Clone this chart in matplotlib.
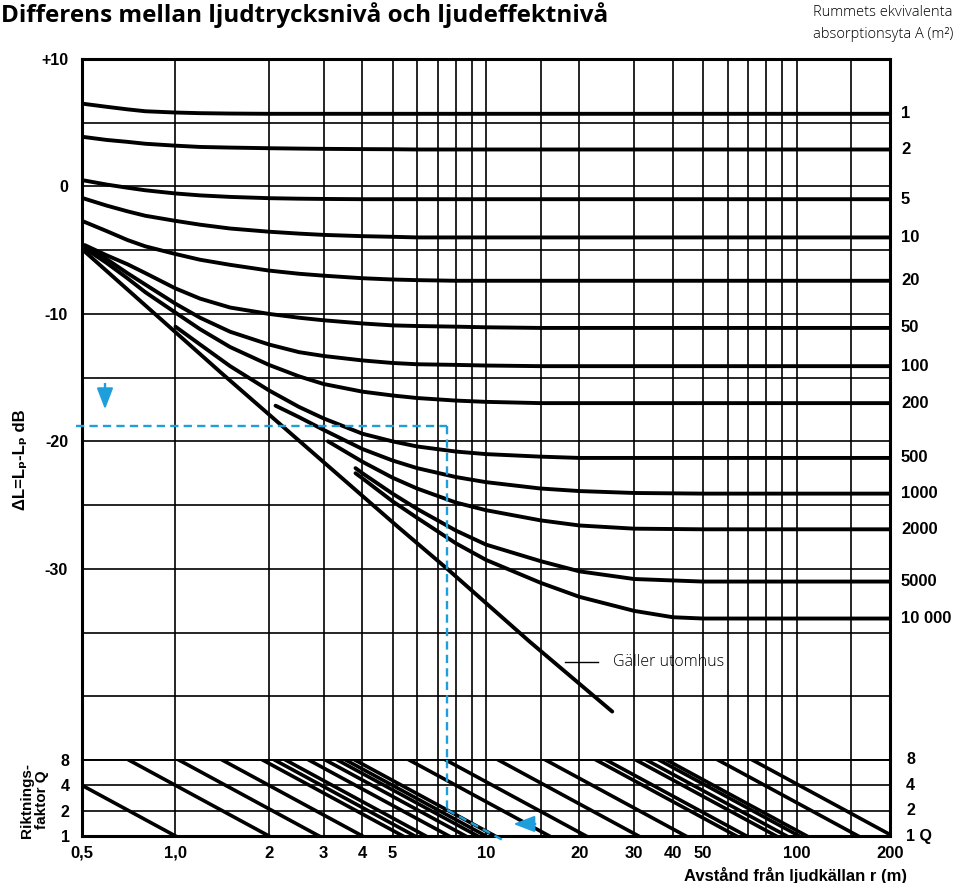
import matplotlib.pyplot as plt
from matplotlib.ticker import NullLocator
from matplotlib.transforms import blended_transform_factory

# --- figure geometry (pixels of the 962x883 reference) ---
W, H = 962, 883
L, R, T, M, B = 82, 890, 59, 760, 836   # left, right, top (+10 dB), Q=8 line, Q=1 line

BLUE = '#1E9FDB'
NUM_FONT = ['Liberation Sans', 'DejaVu Sans']
TXT_FONT = ['Open Sans', 'DejaVu Sans']

# --- axes values ---
r_ticks = [0.5, 1, 2, 3, 4, 5, 10, 20, 30, 40, 50, 100, 200]
r_tick_labels = ['0,5', '1,0', '2', '3', '4', '5', '10', '20', '30', '40', '50', '100', '200']
r_grid = [1, 2, 3, 4, 5, 6, 7, 8, 9, 10, 15, 20, 30, 40, 50, 60, 70, 80, 90, 100, 150]
db_grid = [5, 0, -5, -10, -15, -20, -25, -30, -35, -40]
db_ticks = [10, 0, -10, -20, -30]
db_tick_labels = ['+10', '0', '-10', '-20', '-30']
q_levels = [1, 2, 4, 8]
q_right_labels = ['1 Q', '2', '4', '8']

# --- room curves: absorption area A (m2) -> dB values ---
r_full = [0.5, 0.6, 0.7, 0.8, 1, 1.2, 1.5, 2, 2.5, 3, 4, 5, 6, 8, 10, 15, 20, 30, 50, 100, 200]
a1 = [6.5, 6.25, 6.05, 5.9, 5.8, 5.75, 5.72, 5.7, 5.7, 5.7, 5.7, 5.7, 5.7, 5.7, 5.7, 5.7, 5.7, 5.7, 5.7, 5.7, 5.7]
a2 = [3.9, 3.65, 3.5, 3.35, 3.2, 3.1, 3.05, 3.0, 2.97, 2.95, 2.93, 2.92, 2.9, 2.9, 2.9, 2.9, 2.9, 2.9, 2.9, 2.9, 2.9]
a5 = [0.5, 0.15, -0.1, -0.3, -0.55, -0.7, -0.82, -0.92, -0.96, -0.98, -1.0, -1.0, -1.0, -1.0, -1.0, -1.0, -1.0, -1.0, -1.0, -1.0, -1.0]
a10 = [-0.9, -1.5, -1.95, -2.3, -2.7, -3.0, -3.3, -3.55, -3.7, -3.8, -3.9, -3.95, -4.0, -4.0, -4.0, -4.0, -4.0, -4.0, -4.0, -4.0, -4.0]
a20 = [-2.7, -3.5, -4.2, -4.7, -5.3, -5.75, -6.15, -6.6, -6.85, -7.0, -7.2, -7.3, -7.35, -7.4, -7.4, -7.4, -7.4, -7.4, -7.4, -7.4, -7.4]

r_bundle = [0.51, 0.6, 0.7, 0.8, 1, 1.2, 1.5, 2, 2.5, 3, 4, 5, 6, 8, 10, 15, 20, 30, 50, 100, 200]
a50 = [-4.6, -5.4, -6.1, -6.8, -8.0, -8.8, -9.5, -10.0, -10.3, -10.5, -10.75, -10.9, -10.95, -11.0, -11.05, -11.1, -11.1, -11.1, -11.1, -11.1, -11.1]
a100 = [-4.75, -5.7, -6.8, -7.7, -9.2, -10.3, -11.4, -12.4, -13.0, -13.3, -13.65, -13.85, -13.95, -14.0, -14.05, -14.1, -14.1, -14.1, -14.1, -14.1, -14.1]
a200 = [-4.85, -6.0, -7.2, -8.3, -9.9, -11.2, -12.6, -14.0, -14.9, -15.5, -16.1, -16.4, -16.6, -16.8, -16.9, -17.0, -17.0, -17.0, -17.0, -17.0, -17.0]

r_a500 = [1.0, 1.2, 1.5, 2, 2.5, 3, 4, 5, 6, 8, 10, 15, 20, 30, 50, 100, 200]
a500 = [-11.0, -12.4, -14.1, -16.0, -17.3, -18.2, -19.4, -20.0, -20.4, -20.8, -21.0, -21.2, -21.3, -21.3, -21.3, -21.3, -21.3]
r_a1000 = [2.1, 2.5, 3, 4, 5, 6, 8, 10, 15, 20, 30, 50, 100, 200]
a1000 = [-17.2, -18.1, -19.1, -20.6, -21.5, -22.1, -22.8, -23.2, -23.7, -23.9, -24.05, -24.1, -24.1, -24.1]
r_a2000 = [3.1, 4, 5, 6, 8, 10, 15, 20, 30, 50, 100, 200]
a2000 = [-20.0, -21.6, -22.85, -23.7, -24.8, -25.4, -26.2, -26.6, -26.85, -26.9, -26.9, -26.9]
r_a5000 = [3.8, 4, 5, 6, 8, 10, 15, 20, 30, 50, 100, 200]
a5000 = [-22.1, -22.5, -24.1, -25.3, -27.0, -28.1, -29.4, -30.2, -30.8, -31.0, -31.0, -31.0]
r_a10000 = [3.8, 4, 5, 6, 8, 10, 15, 20, 30, 40, 50, 100, 200]
a10000 = [-22.5, -22.9, -24.7, -26.0, -28.0, -29.3, -31.1, -32.2, -33.3, -33.8, -33.9, -33.9, -33.9]

# free field line ("Gäller utomhus")
r_free = [0.51, 1.4, 5.2, 7.5, 13.8, 25.5]
free = [-5.1, -14.6, -26.7, -30.0, -35.7, -41.2]

curves = [
    (r_full, a1, '1'), (r_full, a2, '2'), (r_full, a5, '5'), (r_full, a10, '10'),
    (r_full, a20, '20'), (r_bundle, a50, '50'), (r_bundle, a100, '100'),
    (r_bundle, a200, '200'), (r_a500, a500, '500'), (r_a1000, a1000, '1000'),
    (r_a2000, a2000, '2000'), (r_a5000, a5000, '5000'), (r_a10000, a10000, '10 000'),
]

# directivity scale: distance where each diagonal meets Q = 1
q_diag_r1 = [1.0, 2.0, 2.9, 4.0, 5.4, 5.9, 6.4, 7.6, 8.6, 9.4, 10.0, 10.7,
             16, 21, 31, 44, 64, 69, 86, 93, 102, 108, 158, 204]

# worked example (blue dashed path)
ex_level = -18.8
ex_r = 7.5
ex_q = 2.04


def fig_box(x0, y0, x1, y1):
    return [x0 / W, 1 - y1 / H, (x1 - x0) / W, (y1 - y0) / H]


def px(x, y):
    return x / W, 1 - y / H


fig = plt.figure(figsize=(W / 100, H / 100), dpi=100)
ax = fig.add_axes(fig_box(L, T, R, M))
axq = fig.add_axes(fig_box(L, M, R, B))

for a in (ax, axq):
    a.set_xscale('log')
    a.set_xlim(0.5, 200)
    a.xaxis.set_minor_locator(NullLocator())
    a.tick_params(which='both', length=0)
    for v in r_grid:
        a.axvline(v, color='black', lw=1.2, zorder=1)
    for s in a.spines.values():
        s.set_linewidth(2.2)
        s.set_zorder(5)

# main panel
ax.set_ylim(-45, 10)
for h in db_grid:
    ax.axhline(h, color='black', lw=1.2, zorder=1)
ax.set_yticks(db_ticks, db_tick_labels)
ax.set_xticks([])
ax.tick_params(axis='y', pad=10)
for lab in ax.get_yticklabels():
    lab.set_fontfamily(NUM_FONT)
    lab.set_fontweight('bold')
    lab.set_fontsize(11.5)
ax.spines['bottom'].set_linewidth(1.4)

lab_tr = blended_transform_factory(ax.transAxes, ax.transData)
for rr, vals, name in curves:
    ax.plot(rr, vals, color='black', lw=2.8, solid_capstyle='round',
            solid_joinstyle='round', zorder=3)
    ax.text(1.0136, vals[-1], name, transform=lab_tr, ha='left', va='center',
            fontsize=12, fontweight='bold', family=NUM_FONT)

ax.plot(r_free, free, color='black', lw=2.8, solid_capstyle='round', zorder=3)
ax.plot([18, 23], [-37.3, -37.3], color='black', lw=1.0, zorder=3)
ax.text(25.6, -37.3, 'Gäller utomhus', ha='left', va='center', fontsize=11.5,
        fontweight='light', family=TXT_FONT, zorder=4)

# Q panel
axq.set_yscale('log', base=2)
axq.set_ylim(1, 8)
axq.yaxis.set_minor_locator(NullLocator())
for q in q_levels[1:3]:
    axq.axhline(q, color='black', lw=1.2, zorder=1)
axq.set_yticks(q_levels, [str(q) for q in q_levels])
axq.set_xticks(r_ticks, r_tick_labels)
axq.tick_params(axis='y', pad=9)
axq.tick_params(axis='x', pad=7)
for lab in axq.get_yticklabels():
    lab.set_fontfamily(NUM_FONT)
    lab.set_fontweight('bold')
    lab.set_fontsize(11.5)
for lab in axq.get_xticklabels():
    lab.set_fontfamily(NUM_FONT)
    lab.set_fontweight('bold')
    lab.set_fontsize(12)
axq.spines['top'].set_linewidth(1.4)

q_tr = blended_transform_factory(axq.transAxes, axq.transData)
for q, name in zip(q_levels, q_right_labels):
    axq.text(1.02, q, name, transform=q_tr, ha='left', va='center',
             fontsize=11.5, fontweight='bold', family=NUM_FONT)

# diagonals: constant Q / r^2, from Q = 8 down to Q = 1
for r1 in q_diag_r1:
    axq.plot([r1 / 8 ** 0.5, r1], [8, 1], color='black', lw=2.6, zorder=3)

# blue worked example
dash = dict(color=BLUE, lw=1.7, dashes=(3.5, 2.2), zorder=6, clip_on=False)
ax.plot([0.48, ex_r], [ex_level, ex_level], **dash)
ax.plot([ex_r, ex_r], [ex_level, -45], **dash)
axq.plot([ex_r, ex_r], [8, ex_q], **dash)
axq.plot([ex_r, ex_r * (ex_q / 0.9) ** 0.5], [ex_q, 0.9], **dash)
ax.plot([0.593, 0.593], [-15.4, -16.4], **dash)
ax.annotate('', xy=(0.593, -17.7), xytext=(0.593, -16.2),
            arrowprops=dict(arrowstyle='-|>,head_length=0.65,head_width=0.25',
                            color=BLUE, lw=1.5, mutation_scale=20), zorder=6)
axq.plot([13.7, 15.0], [1.39, 1.39], **dash)
axq.annotate('', xy=(12.0, 1.39), xytext=(13.6, 1.39),
             arrowprops=dict(arrowstyle='-|>,head_length=0.65,head_width=0.25',
                             color=BLUE, lw=1.5, mutation_scale=20), zorder=6)

# texts
fig.text(*px(1, 15), 'Differens mellan ljudtrycksnivå och ljudeffektnivå',
         ha='left', va='center', fontsize=17.5, fontweight='bold', family=TXT_FONT)
fig.text(*px(953, 13), 'Rummets ekvivalenta', ha='right', va='center',
         fontsize=10.5, fontweight='light', family=TXT_FONT)
fig.text(*px(953, 35), 'absorptionsyta A (m²)', ha='right', va='center',
         fontsize=10.5, fontweight='light', family=TXT_FONT)
fig.text(*px(21, 460), 'ΔL=Lₚ-Lₚ dB', rotation=90, ha='center', va='center',
         fontsize=12, fontweight='bold', family=NUM_FONT)
fig.text(*px(27, 800), 'Riktnings-', rotation=90, ha='center', va='center',
         fontsize=11, fontweight='bold', family=NUM_FONT)
fig.text(*px(42, 800), 'faktor Q', rotation=90, ha='center', va='center',
         fontsize=11, fontweight='bold', family=NUM_FONT)
fig.text(*px(907, 876), 'Avstånd från ljudkällan r (m)', ha='right', va='center',
         fontsize=12, fontweight='bold', family=NUM_FONT)

fig.savefig('out.png', dpi=100)
